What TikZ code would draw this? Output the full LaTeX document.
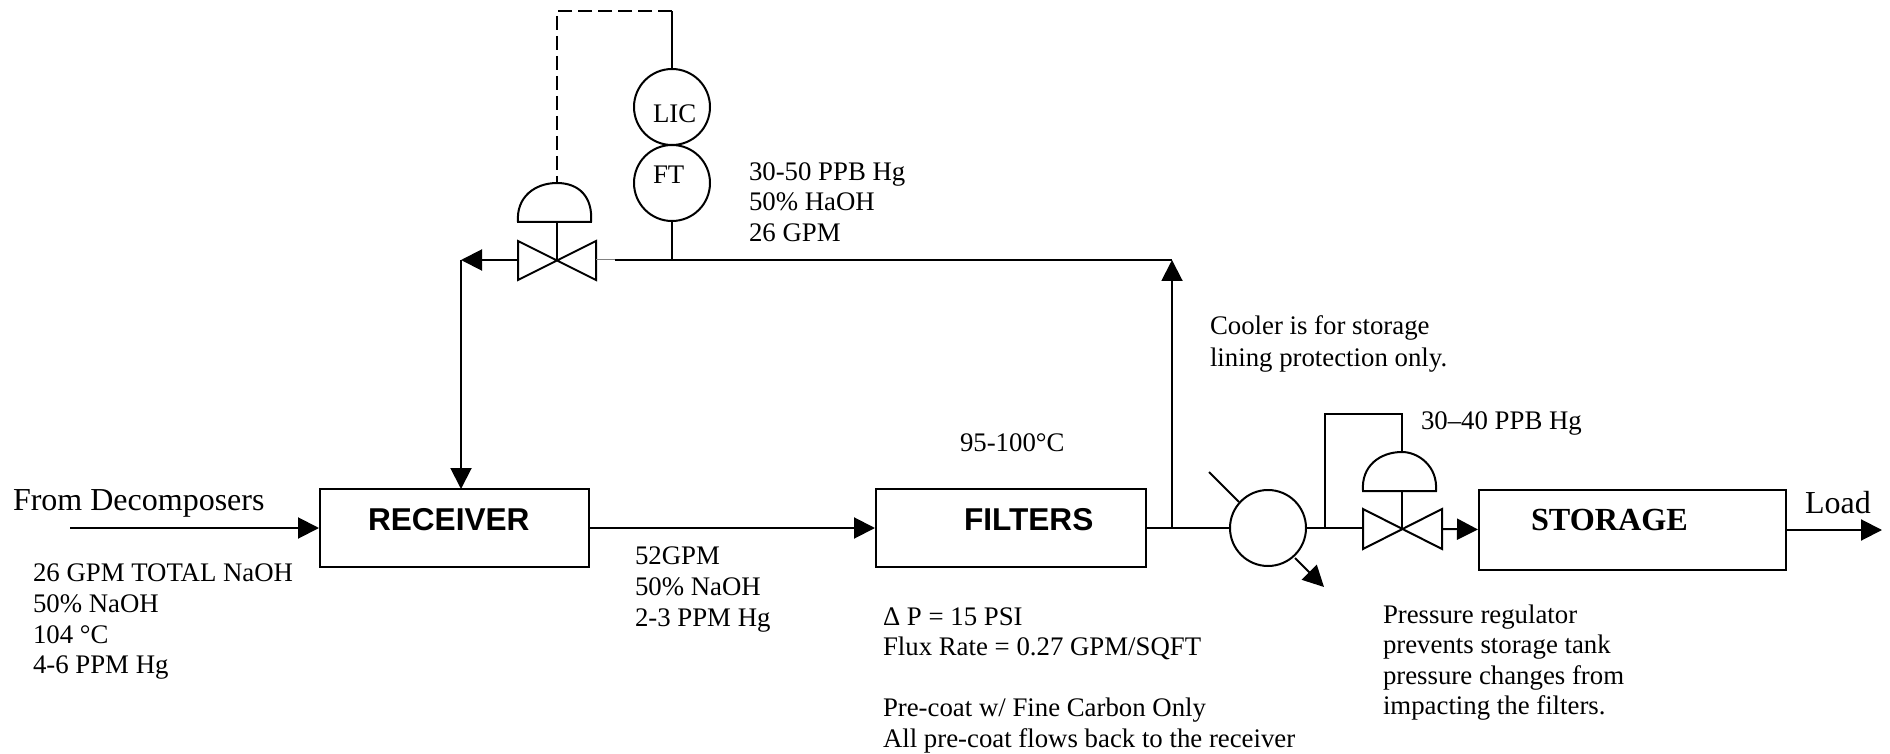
\documentclass[tikz,border=0pt]{standalone}
\usepackage{fontspec}
\setmainfont{Liberation Serif}
\newfontfamily\arialfont{Liberation Sans}
\usetikzlibrary{arrows.meta, positioning}

\begin{document}
\begin{tikzpicture}[x=0.5pt, y=-0.5pt, line width=1pt]
    % Define styles
    \tikzstyle{vessel} = [rectangle, draw, inner sep=0pt, minimum height=39pt]
    \tikzstyle{instrument} = [circle, draw, inner sep=0pt, minimum size=38pt]
    \tikzstyle{arrow} = [-{Triangle[length=10.5pt, width=10.5pt]}]
    \tikzstyle{note} = [anchor=base west, inner sep=0pt, align=left, font=\fontsize{13.4pt}{15.5pt}\selectfont]
    \tikzstyle{bigtitle} = [anchor=base west, inner sep=0pt, font=\arialfont\bfseries\fontsize{15.8pt}{18pt}\selectfont]
    \tikzstyle{valve} = [draw, line width=1pt]

    \useasboundingbox (0,0) rectangle (1890,754);

    % Nodes
    \node[vessel, minimum width=134.5pt] (receiver) at (454.5,528) {};
    \node[vessel, minimum width=135pt] (filters) at (1011,528) {};
    \node[vessel, minimum width=153.5pt, minimum height=40pt] (storage) at (1632.5,529.5) {};
    \node[instrument] (lic) at (672,107) {};
    \node[instrument] (ft) at (672,183) {};
    \node[instrument] (cooler) at (1268,528) {};

    % Junctions and free ends
    \coordinate (feed) at (70,528);
    \coordinate (valvea) at (557,260);
    \coordinate (valvealeft) at (518,260);
    \coordinate (valvearight) at (596,260);
    \coordinate (mainstart) at (615,260);
    \coordinate (ftdrop) at (672,260);
    \coordinate (recycle) at (461,260);
    \coordinate (recycledown) at (461,489);
    \coordinate (corner) at (1172,260);
    \coordinate (tee) at (1172,528);
    \coordinate (topleft) at (557,11);
    \coordinate (topright) at (672,11);
    \coordinate (domea) at (557,183);
    \coordinate (coolerin) at (1209,472);
    \coordinate (coolerinend) at (1239,502);
    \coordinate (coolerout) at (1295,558);
    \coordinate (cooleroutend) at (1324,587);
    \coordinate (valveb) at (1402,528);
    \coordinate (valvebleft) at (1363,528);
    \coordinate (valvebright) at (1442,529);
    \coordinate (sense) at (1325,528);
    \coordinate (senseup) at (1325,414);
    \coordinate (senseover) at (1402,414);
    \coordinate (domeb) at (1402,452);
    \coordinate (load) at (1882,530);

    % Control valves
    \draw[valve] (valvealeft) -- (518,241) -- (596,280) -- (596,241) -- (518,280) -- cycle;
    \draw[valve] (valvebleft) -- (1363,509) -- (1442,549) -- (1442,509) -- (1363,549) -- cycle;
    \draw (518,222) .. controls (516,197) and (535,183) .. (domea) .. controls (579,183) and (593,197) .. (591,222) -- cycle;
    \draw (1363,491) .. controls (1361,466) and (1380,452) .. (domeb) .. controls (1418,452) and (1438,466) .. (1436,491) -- cycle;
    \draw (557,222) -- (valvea);
    \draw (1402,491) -- (valveb);

    % Connections
    \draw[arrow] (feed) -- (receiver.west);
    \draw[arrow] (receiver.east) -- (filters.west);
    \draw[arrow] (valvealeft) -- (recycle);
    \draw[arrow] (recycle) -- (recycledown);
    \draw[arrow] (tee) -- (corner);
    \draw (filters.east) -- (cooler.west);
    \draw[gray, line width=0.5pt] (valvearight) -- (mainstart);
    \draw (mainstart) -- (corner);
    \draw (ft.south) -- (ftdrop);
    \draw (lic.north) -- (topright);
    \draw[dashed, dash pattern=on 7pt off 3pt] (topright) -- (topleft) -- (domea);
    \draw (coolerin) -- (coolerinend);
    \draw[arrow] (coolerout) -- (cooleroutend);
    \draw (cooler.east) -- (valvebleft);
    \draw (sense) -- (senseup) -- (senseover) -- (domeb);
    \draw[arrow] (valvebright) -- (storage.west);
    \draw[arrow] (storage.east |- load) -- (load);

    % Labels
    \node[bigtitle] (receivertext) at (367,530) {RECEIVER};
    \node[bigtitle] (filterstext) at (963,530) {FILTERS};
    \node[bigtitle, font=\bfseries\fontsize{16.1pt}{18pt}\selectfont] (storagetext) at (1530,530) {STORAGE};
    \node[note] (lictext) at (652,123) {LIC};
    \node[note] (fttext) at (652,184) {FT};
    \node[note, font=\fontsize{16pt}{18pt}\selectfont] (feedtext) at (12,510) {From Decomposers};
    \node[note, font=\fontsize{16pt}{18pt}\selectfont] (loadtext) at (1804,513) {Load};
    \node[note] (feednotea) at (32,581) {26 GPM TOTAL NaOH};
    \node[note] (feednoteb) at (32,612) {50\% NaOH};
    \node[note] (feednotec) at (32,643) {104 °C};
    \node[note] (feednoted) at (32,673) {4-6 PPM Hg};
    \node[note] (midnotea) at (634,564) {52GPM};
    \node[note] (midnoteb) at (634,595) {50\% NaOH};
    \node[note] (midnotec) at (634,626) {2-3 PPM Hg};
    \node[note] (recnotea) at (748,181) {30-50 PPB Hg};
    \node[note] (recnoteb) at (748,211) {50\% HaOH};
    \node[note] (recnotec) at (748,242) {26 GPM};
    \node[note] (temptext) at (959,451) {95-100°C};
    \node[note] (coolernotea) at (1209,335) {Cooler is for storage};
    \node[note] (coolernoteb) at (1209,366) {lining protection only.};
    \node[note] (hgtext) at (1420,429) {30--40 PPB Hg};
    \node[note] (filternotea) at (882,625) {Δ P = 15 PSI};
    \node[note] (filternoteb) at (882,655) {Flux Rate = 0.27 GPM/SQFT};
    \node[note] (filternotec) at (882,716) {Pre-coat w/ Fine Carbon Only};
    \node[note] (filternoted) at (882,747) {All pre-coat flows back to the receiver};
    \node[note] (regnotea) at (1382,623) {Pressure regulator};
    \node[note] (regnoteb) at (1382,653) {prevents storage tank};
    \node[note] (regnotec) at (1382,684) {pressure changes from};
    \node[note] (regnoted) at (1382,714) {impacting the filters.};
\end{tikzpicture}
\end{document}
